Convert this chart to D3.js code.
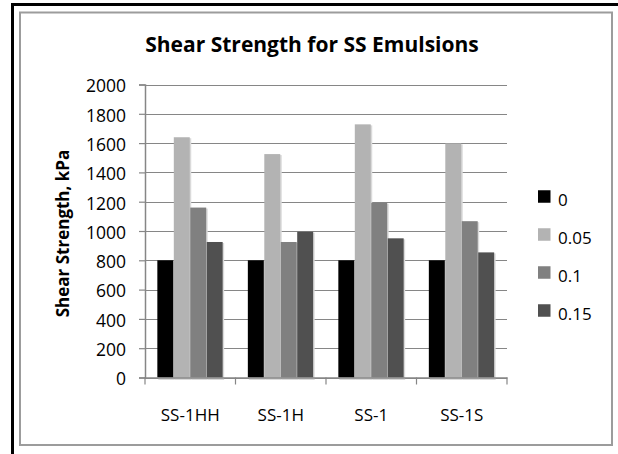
<!DOCTYPE html>
<html>
<head>
<meta charset="utf-8">
<script src="https://cdn.jsdelivr.net/npm/d3@7"></script>
<style>
  html, body { margin: 0; padding: 0; background: #fff; }
  svg { display: block; }
  text { font-family: "Open Sans", "Liberation Sans", sans-serif; fill: #000; }
</style>
</head>
<body>
<svg id="chart" width="618" height="454"></svg>
<script>
// Emulsion grades along the x axis
const categories = ["SS-1HH", "SS-1H", "SS-1", "SS-1S"];
// Legend entries (additive content)
const seriesNames = ["0", "0.05", "0.1", "0.15"];
// Shear strength (kPa) for each series, in category order
const values0   = [800, 800, 800, 800];
const values005 = [1640, 1525, 1728, 1598];
const values01  = [1160, 925, 1193, 1067];
const values015 = [925, 995, 950, 854];
// Value axis ticks
const yTicks = [0, 200, 400, 600, 800, 1000, 1200, 1400, 1600, 1800, 2000];

const seriesValues = [values0, values005, values01, values015];
const colors = ["#000000", "#b3b3b3", "#808080", "#505050"];

const svg = d3.select("#chart");

// Outer frame: heavy black on top and left, grey chart-area border inside
svg.append("path")
  .attr("d", "M12.5,454 L12.5,4.5 L618,4.5")
  .attr("fill", "none").attr("stroke", "#000").attr("stroke-width", 3);
svg.append("rect")
  .attr("x", 20).attr("y", 12.5).attr("width", 592).attr("height", 432.5)
  .attr("fill", "#fff").attr("stroke", "#9c9c9c").attr("stroke-width", 2);

const plot = { left: 145, right: 507, top: 84.5, bottom: 377.5 };

const x = d3.scaleBand().domain(categories).range([plot.left, plot.right]).padding(0);
const bandW = x.bandwidth();
// 150% gap between groups: four bars plus 1.5 bar widths of gap per band
const barW = bandW / (seriesNames.length + 1.5);
const groupPad = (bandW - barW * seriesNames.length) / 2;
const xs = d3.scaleBand().domain(seriesNames)
  .range([groupPad, bandW - groupPad]).padding(0);

const y = d3.scaleLinear().domain([0, 2000]).range([plot.bottom, plot.top]);

const gridColor = "#868686";

// Horizontal gridlines
svg.append("g")
  .selectAll("line").data(yTicks).join("line")
  .attr("x1", plot.left).attr("x2", plot.right)
  .attr("y1", d => Math.round(y(d)) + 0.5).attr("y2", d => Math.round(y(d)) + 0.5)
  .attr("stroke", gridColor).attr("stroke-width", 1.2);

// Bars with a faint drop shadow
const rows = [];
categories.forEach((c, i) => {
  seriesNames.forEach((s, j) => rows.push({ c, s, v: seriesValues[j][i], color: colors[j] }));
});

svg.append("g")
  .selectAll("rect").data(rows).join("rect")
  .attr("x", d => x(d.c) + xs(d.s) + 1)
  .attr("y", d => y(d.v) + 1)
  .attr("width", xs.bandwidth())
  .attr("height", d => plot.bottom - y(d.v) + 1.5)
  .attr("fill", "#dadada");

svg.append("g")
  .selectAll("rect").data(rows).join("rect")
  .attr("x", d => x(d.c) + xs(d.s))
  .attr("y", d => y(d.v))
  .attr("width", xs.bandwidth() - 0.5)
  .attr("height", d => plot.bottom - y(d.v))
  .attr("fill", d => d.color);

// Value axis
const yAxis = d3.axisLeft(y).tickValues(yTicks).tickSize(6).tickPadding(13).tickFormat(d3.format("d"));
const gy = svg.append("g").attr("transform", `translate(${plot.left},0)`).call(yAxis);
gy.select(".domain").attr("stroke", gridColor).attr("stroke-width", 1.5);
gy.selectAll(".tick line").attr("stroke", gridColor).attr("stroke-width", 1.2);
gy.selectAll(".tick text")
  .attr("font-size", 17.5).attr("dy", "0.42em")
  .style("font-family", '"Open Sans", sans-serif');

// Category axis
const xAxis = d3.axisBottom(x).tickSize(0).tickPadding(0);
const gx = svg.append("g").attr("transform", `translate(0,${plot.bottom})`).call(xAxis);
gx.select(".domain").attr("stroke", gridColor).attr("stroke-width", 1.5);
gx.selectAll(".tick text")
  .attr("y", 37.5).attr("dy", "0.36em")
  .attr("font-size", 17)
  .style("font-family", '"Open Sans", sans-serif');
// Boundary ticks between categories
const bounds = categories.map(c => x(c)).concat([plot.right]);
gx.append("g").selectAll("line").data(bounds).join("line")
  .attr("x1", d => d).attr("x2", d => d)
  .attr("y1", 0).attr("y2", 7)
  .attr("stroke", gridColor).attr("stroke-width", 1.2);

// Title
svg.append("text")
  .attr("x", 312).attr("y", 52)
  .attr("text-anchor", "middle")
  .attr("font-size", 21).attr("font-weight", "bold")
  .text("Shear Strength for SS Emulsions");

// Value axis title
svg.append("text")
  .attr("transform", "translate(62.5,233.5) rotate(-90)")
  .attr("text-anchor", "middle").attr("dy", "0.36em")
  .attr("font-size", 17).attr("font-weight", "bold")
  .text("Shear Strength, kPa");

// Legend
const legend = svg.append("g").attr("transform", "translate(538,196.5)");
const item = legend.selectAll("g").data(seriesNames).join("g")
  .attr("transform", (d, i) => `translate(0,${i * 38})`);
item.append("rect")
  .attr("x", 0).attr("y", -6.25).attr("width", 12.5).attr("height", 12.5)
  .attr("fill", (d, i) => colors[i]);
item.append("text")
  .attr("x", 20).attr("y", 3).attr("dy", "0.36em")
  .attr("font-size", 17)
  .text(d => d);
</script>
</body>
</html>
